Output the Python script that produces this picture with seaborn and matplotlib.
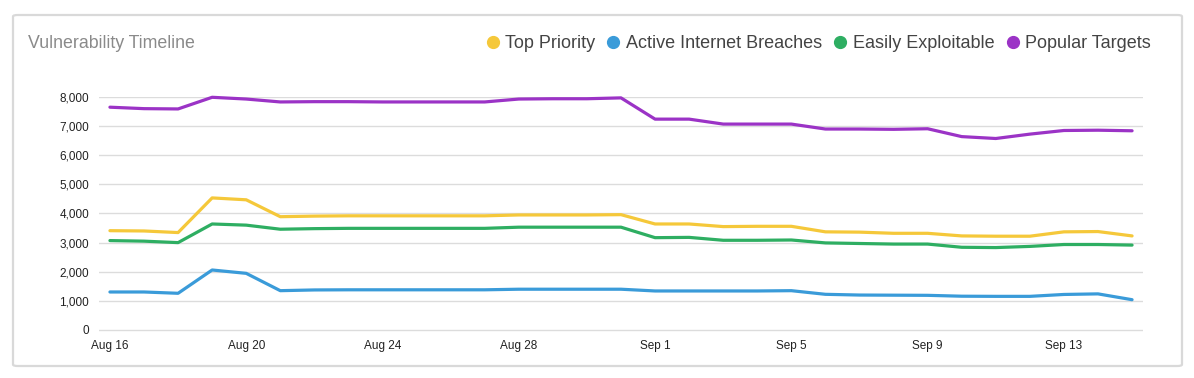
import pandas as pd
import seaborn as sns
import matplotlib.pyplot as plt
import matplotlib.dates as mdates
from matplotlib.patches import FancyBboxPatch
from matplotlib.ticker import FuncFormatter

# daily values, Aug 16 .. Sep 15
dates = pd.date_range("2017-08-16", "2017-09-15", freq="D")

top_priority = [3410, 3400, 3345, 4535, 4470, 3890, 3910, 3920, 3920, 3920, 3920, 3920,
                3950, 3950, 3950, 3960, 3640, 3640, 3550, 3560, 3560, 3370, 3360, 3320,
                3320, 3230, 3220, 3220, 3370, 3380, 3230]
active_breaches = [1305, 1305, 1260, 2060, 1945, 1350, 1375, 1380, 1380, 1380, 1380, 1380,
                   1400, 1400, 1400, 1400, 1340, 1340, 1340, 1340, 1350, 1225, 1200, 1195,
                   1190, 1160, 1155, 1155, 1220, 1240, 1040]
easily_exploitable = [3070, 3050, 3000, 3640, 3600, 3460, 3480, 3490, 3490, 3490, 3490, 3490,
                      3530, 3530, 3530, 3530, 3170, 3180, 3080, 3080, 3090, 2990, 2970, 2950,
                      2950, 2840, 2830, 2870, 2935, 2935, 2915]
popular_targets = [7650, 7600, 7590, 7990, 7930, 7830, 7840, 7840, 7830, 7830, 7830, 7830,
                   7930, 7940, 7940, 7970, 7240, 7240, 7070, 7070, 7070, 6900, 6900, 6890,
                   6910, 6640, 6575, 6725, 6850, 6860, 6840]

series_names = ["Top Priority", "Active Internet Breaches", "Easily Exploitable", "Popular Targets"]
colors = ["#f5c83a", "#3a9bd9", "#2eae62", "#9b33c6"]

df = pd.DataFrame({
    "date": list(dates) * 4,
    "value": top_priority + active_breaches + easily_exploitable + popular_targets,
    "series": [n for n in series_names for _ in dates],
})

plt.rcParams['font.family'] = ['Liberation Sans', 'DejaVu Sans']

fig = plt.figure(figsize=(11.94, 3.78), dpi=100)

# card frame
frame = FancyBboxPatch((13 / 1194, 12 / 378), 1169 / 1194, 351 / 378,
                       boxstyle="round,pad=0,rounding_size=0.004",
                       transform=fig.transFigure, facecolor="white",
                       edgecolor="#d9d9d9", linewidth=1.6, zorder=-5)
fig.patches.append(frame)

# axes box: 0 at y=330px, 8000 at y=97px, a little headroom below 0 for the grid line
ax = fig.add_axes([99 / 1194, 1 - 332 / 378, 1044 / 1194, 235 / 378], zorder=2)
ax.set_facecolor("none")

sns.lineplot(data=df, x="date", y="value", hue="series", hue_order=series_names,
             palette=colors, linewidth=2.3, legend=False, ax=ax,
             solid_joinstyle="round", solid_capstyle="round", clip_on=False)

ax.set_ylim(-69, 8000)
ax.set_yticks(range(0, 8001, 1000))
ax.yaxis.set_major_formatter(FuncFormatter(lambda v, p: f"{int(v):,}"))
ax.set_xlim(dates[0] - pd.Timedelta(hours=7.7), dates[-1] + pd.Timedelta(hours=7.7))
ax.set_xticks(dates[::4])
ax.xaxis.set_major_formatter(mdates.DateFormatter("%b %-d"))

ax.grid(axis="y", color="#dcdcdc", linewidth=1)
ax.grid(axis="x", visible=False)
ax.set_axisbelow(True)
for s in ax.spines.values():
    s.set_visible(False)
ax.tick_params(axis="both", length=0, labelsize=8.5, colors="#222222")
ax.tick_params(axis="y", pad=7)
ax.tick_params(axis="x", pad=5.5)
ax.set_xlabel("")
ax.set_ylabel("")

fig.text(28 / 1194, 1 - 43.5 / 378, "Vulnerability Timeline", fontsize=12.8,
         color="#8a8a8a", va="center", ha="left")

# legend
handles = [plt.Line2D([], [], marker="o", linestyle="", markersize=8.5,
                      markerfacecolor=c, markeredgecolor=c) for c in colors]
fig.legend(handles, series_names, loc="center right",
           bbox_to_anchor=(1151 / 1194, 1 - 44 / 378), ncol=4, frameon=False,
           fontsize=13, labelcolor="#444444", handletextpad=0.2,
           columnspacing=0.5, handlelength=1.0, borderaxespad=0, borderpad=0)

fig.savefig("out.png", dpi=100)
